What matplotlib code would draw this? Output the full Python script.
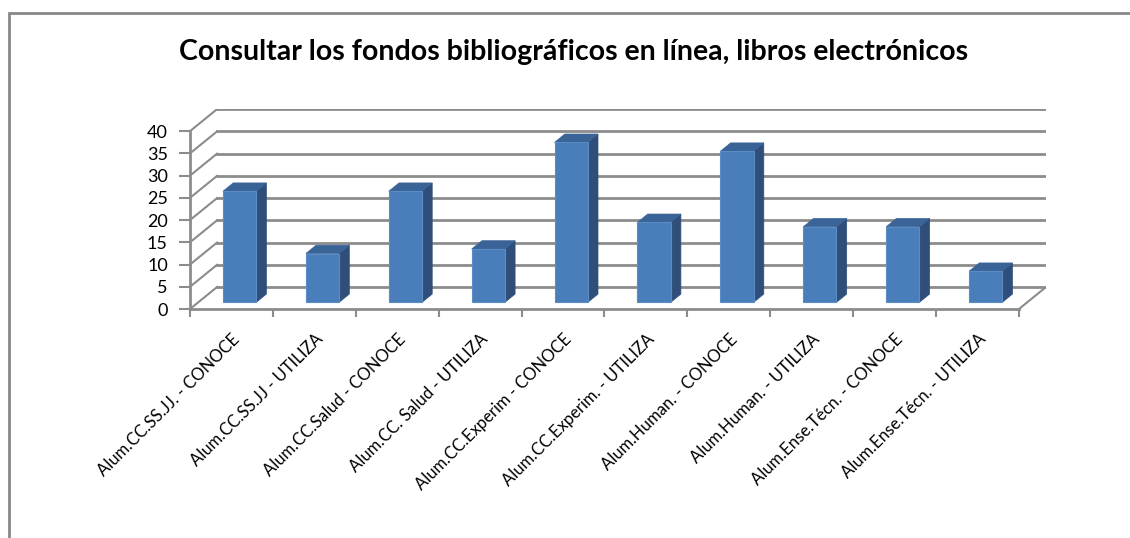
import matplotlib
matplotlib.use('Agg')
import matplotlib.pyplot as plt
from matplotlib.patches import Polygon, Rectangle

plt.rcParams['font.family'] = ['Lato', 'DejaVu Sans']

title = 'Consultar los fondos bibliográficos en línea, libros electrónicos'
categorias = ['Alum.CC.SS.JJ. - CONOCE', 'Alum.CC.SS.JJ - UTILIZA',
              'Alum.CC.Salud - CONOCE', 'Alum.CC. Salud - UTILIZA',
              'Alum.CC.Experim - CONOCE', 'Alum.CC.Experim. - UTILIZA',
              'Alum.Human. - CONOCE', 'Alum.Human. - UTILIZA',
              'Alum.Ense.Técn. - CONOCE', 'Alum.Ense.Técn. - UTILIZA']
valores = [25, 11, 25, 12, 36, 18, 34, 17, 17, 7]
yticks = list(range(0, 45, 5))

# oblique depth of the 3d box (in data units) and where the bars sit inside it
DX, DY = 0.326, 4.94
D0, D1 = 0.30, 0.68
ANCHO = 0.40
GRIS = '#8c8c8c'

fig = plt.figure(figsize=(11.3, 5.38), dpi=100)
ax = fig.add_axes([190 / 1130, 229 / 538, 856 / 1130, 200.25 / 538])
ax.set_xlim(0, 10 + DX)
ax.set_ylim(0, 40 + DY + 0.1)
for s in ax.spines.values():
    s.set_visible(False)

# back wall gridlines, side wall diagonals and floor
for v in yticks:
    ax.plot([DX, 10 + DX], [v + DY, v + DY], color=GRIS, lw=2, zorder=1)
    ax.plot([0, DX], [v, v + DY], color=GRIS, lw=1.5, zorder=1)
ax.plot([10, 10 + DX], [0, DY], color=GRIS, lw=1.5, zorder=1)
ax.plot([0, 10], [0, 0], color=GRIS, lw=2, zorder=1, clip_on=False)
ax.plot([0, 0], [0, 40], color=GRIS, lw=2, zorder=1, clip_on=False)

# columns
for i, v in enumerate(valores):
    x0 = i + 0.5 - ANCHO / 2 + D0 * DX
    x1 = x0 + ANCHO
    y0 = D0 * DY
    ox, oy = (D1 - D0) * DX, (D1 - D0) * DY
    ax.add_patch(Polygon([(x1, y0), (x1 + ox, y0 + oy), (x1 + ox, y0 + oy + v), (x1, y0 + v)],
                         closed=True, fc='#2F4F7A', ec='#2F4F7A', lw=0.5, zorder=3))
    ax.add_patch(Polygon([(x0, y0 + v), (x1, y0 + v), (x1 + ox, y0 + v + oy), (x0 + ox, y0 + v + oy)],
                         closed=True, fc='#3A6397', ec='#3A6397', lw=0.5, zorder=3))
    ax.add_patch(Rectangle((x0, y0), ANCHO, v, fc='#4A7EBB', ec='#5B8CC6', lw=0.8, zorder=4))

ax.set_yticks(yticks)
ax.set_yticklabels([str(t) for t in yticks], fontsize=13)
ax.tick_params(axis='y', length=8, width=1.5, color=GRIS, pad=8)
ax.set_xticks(range(11))
ax.set_xticklabels([])
ax.tick_params(axis='x', which='major', length=6, width=1.5, color=GRIS)
ax.set_xticks([i + 0.5 for i in range(10)], minor=True)
ax.set_xticklabels(categorias, minor=True, rotation=45, ha='right',
                   rotation_mode='anchor', fontsize=12)
ax.tick_params(axis='x', which='minor', length=0, pad=16)

fig.text(574 / 1130, 1 - 52 / 538, title, ha='center', va='center',
         fontsize=20.5, fontweight='bold')

fig.add_artist(Rectangle((8.5 / 1130, -0.1), 1.2, 1 - 13 / 538 + 0.1,
                         transform=fig.transFigure, fill=False, ec='#888888', lw=2))

fig.savefig('out.png', dpi=100, facecolor='white')
